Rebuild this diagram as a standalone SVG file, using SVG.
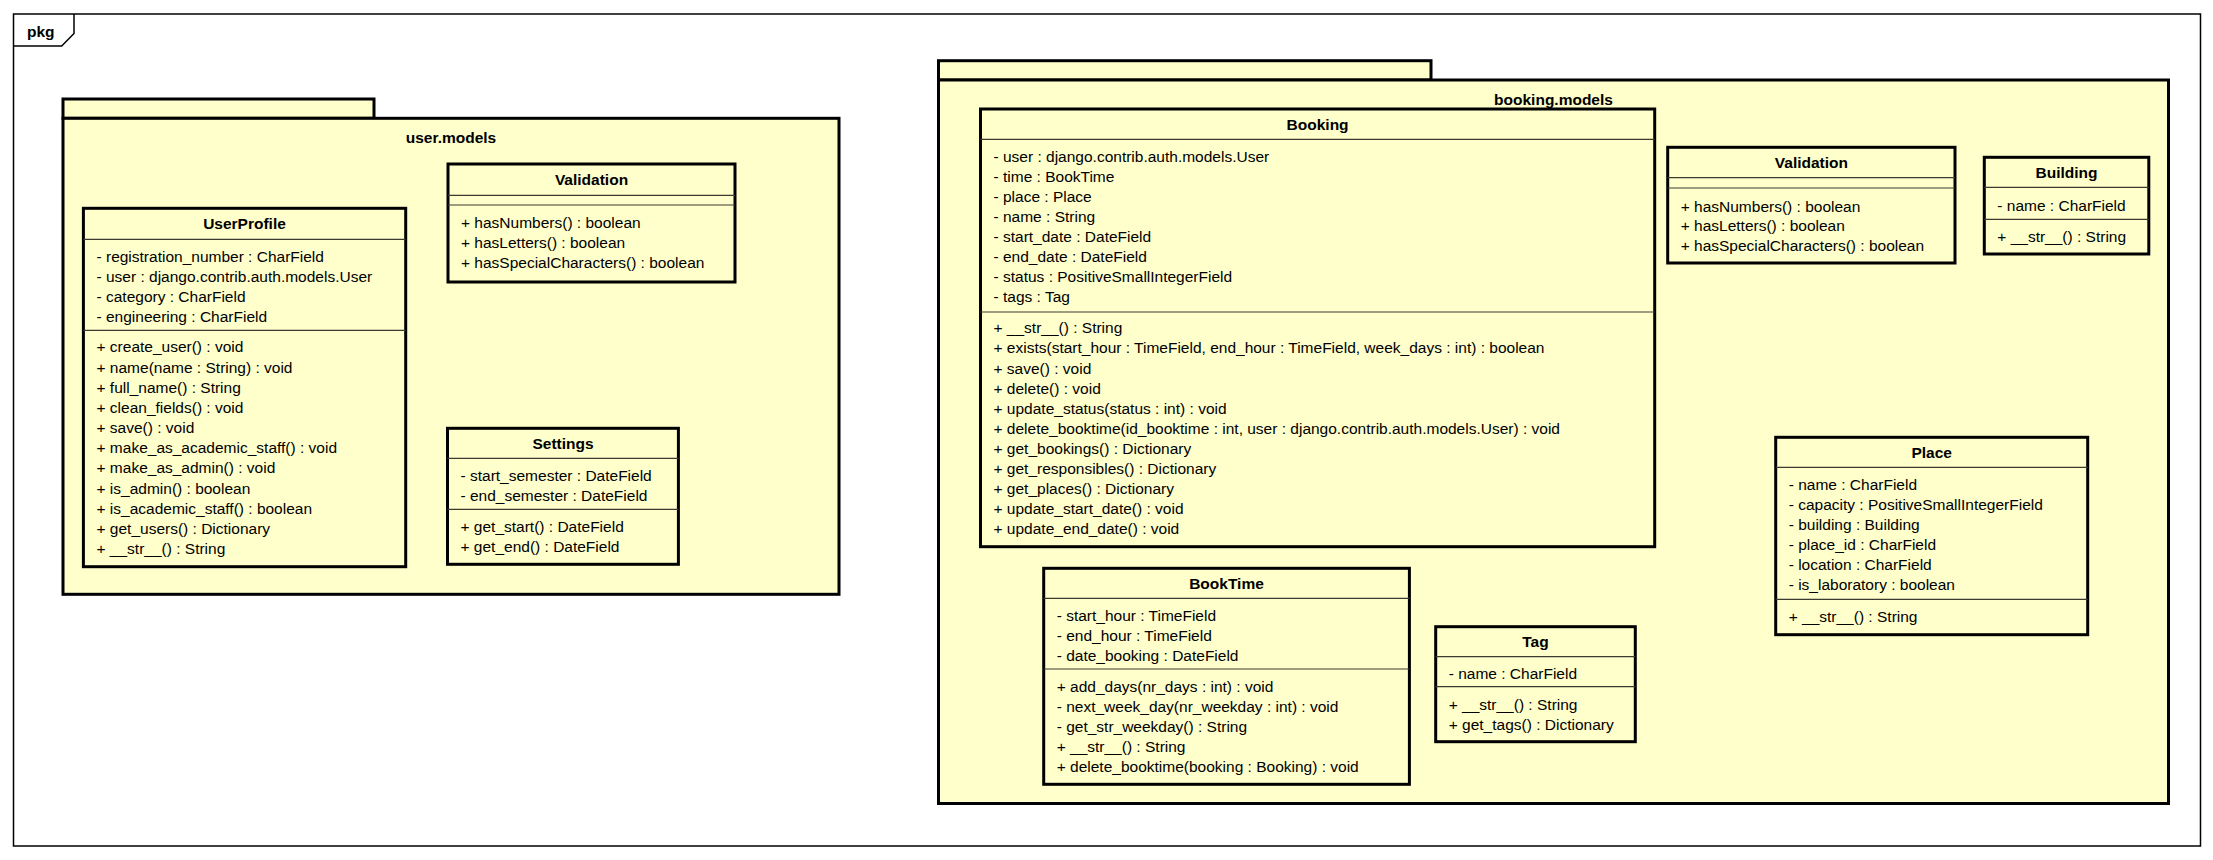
<svg xmlns="http://www.w3.org/2000/svg" width="2213" height="860" viewBox="0 0 2213 860">
<style>
.frame{fill:none;stroke:#000;stroke-width:1.5}
.pk{fill:#FFFFCC;stroke:#000;stroke-width:3}
.cls{fill:#FFFFCC;stroke:#000;stroke-width:3}
.sep{stroke:#3a3a30;stroke-width:1.2}
text{font-family:"Liberation Sans",Arial,sans-serif;font-size:15.5px;fill:#000}
.h{font-weight:bold;text-anchor:middle}
.b{font-weight:bold}
</style>
<rect width="2213" height="860" fill="#fff"/>
<g id="frame">
<rect class="frame" x="13.5" y="14" width="2187" height="832"/>
<polyline class="frame" points="13.5,46 61.7,46 74,33.5 74,14"/>
<text class="b" x="27" y="37">pkg</text>
</g>
<g id="pkg-user-models">
<rect class="pk" x="63" y="99" width="311" height="19.3"/>
<rect class="pk" x="63" y="118.3" width="776" height="476"/>
<text class="h" x="451" y="143">user.models</text>
</g>
<g id="pkg-booking-models">
<rect class="pk" x="938.5" y="60.7" width="492.5" height="19.3"/>
<rect class="pk" x="938.5" y="80" width="1230" height="723.5"/>
<text class="h" x="1553.5" y="104.5">booking.models</text>
</g>
<g id="UserProfile">
<rect class="cls" x="83.4" y="208.3" width="322.3" height="358.4"/>
<line class="sep" x1="83.4" y1="239.3" x2="405.7" y2="239.3"/>
<line class="sep" x1="83.4" y1="330.3" x2="405.7" y2="330.3"/>
<text class="h" x="244.5" y="229.3">UserProfile</text>
<text x="96.5" y="261.7">- registration_number : CharField</text>
<text x="96.5" y="281.7">- user : django.contrib.auth.models.User</text>
<text x="96.5" y="301.7">- category : CharField</text>
<text x="96.5" y="321.7">- engineering : CharField</text>
<text x="96.5" y="352.3">+ create_user() : void</text>
<text x="96.5" y="372.5">+ name(name : String) : void</text>
<text x="96.5" y="392.6">+ full_name() : String</text>
<text x="96.5" y="412.8">+ clean_fields() : void</text>
<text x="96.5" y="433">+ save() : void</text>
<text x="96.5" y="453.1">+ make_as_academic_staff() : void</text>
<text x="96.5" y="473.3">+ make_as_admin() : void</text>
<text x="96.5" y="493.5">+ is_admin() : boolean</text>
<text x="96.5" y="513.7">+ is_academic_staff() : boolean</text>
<text x="96.5" y="533.8">+ get_users() : Dictionary</text>
<text x="96.5" y="554">+ __str__() : String</text>
</g>
<g id="Validation-user">
<rect class="cls" x="448" y="164" width="287" height="118"/>
<line class="sep" x1="448" y1="195.3" x2="735" y2="195.3"/>
<line class="sep" x1="448" y1="205" x2="735" y2="205"/>
<text class="h" x="591.5" y="185">Validation</text>
<text x="461" y="228.3">+ hasNumbers() : boolean</text>
<text x="461" y="248.3">+ hasLetters() : boolean</text>
<text x="461" y="268.3">+ hasSpecialCharacters() : boolean</text>
</g>
<g id="Settings">
<rect class="cls" x="447.5" y="428.3" width="230.9" height="136"/>
<line class="sep" x1="447.5" y1="458.3" x2="678.4" y2="458.3"/>
<line class="sep" x1="447.5" y1="509.3" x2="678.4" y2="509.3"/>
<text class="h" x="563" y="448.8">Settings</text>
<text x="460.5" y="480.7">- start_semester : DateField</text>
<text x="460.5" y="500.7">- end_semester : DateField</text>
<text x="460.5" y="531.7">+ get_start() : DateField</text>
<text x="460.5" y="551.7">+ get_end() : DateField</text>
</g>
<g id="Booking">
<rect class="cls" x="980.5" y="109" width="674.2" height="437.7"/>
<line class="sep" x1="980.5" y1="139.3" x2="1654.7" y2="139.3"/>
<line class="sep" x1="980.5" y1="312" x2="1654.7" y2="312"/>
<text class="h" x="1317.6" y="129.7">Booking</text>
<text x="993.5" y="162.3">- user : django.contrib.auth.models.User</text>
<text x="993.5" y="182.3">- time : BookTime</text>
<text x="993.5" y="202.3">- place : Place</text>
<text x="993.5" y="222.3">- name : String</text>
<text x="993.5" y="242.3">- start_date : DateField</text>
<text x="993.5" y="262.3">- end_date : DateField</text>
<text x="993.5" y="282.3">- status : PositiveSmallIntegerField</text>
<text x="993.5" y="302.3">- tags : Tag</text>
<text x="993.5" y="333.3">+ __str__() : String</text>
<text x="993.5" y="353.4">+ exists(start_hour : TimeField, end_hour : TimeField, week_days : int) : boolean</text>
<text x="993.5" y="373.5">+ save() : void</text>
<text x="993.5" y="393.6">+ delete() : void</text>
<text x="993.5" y="413.7">+ update_status(status : int) : void</text>
<text x="993.5" y="433.8">+ delete_booktime(id_booktime : int, user : django.contrib.auth.models.User) : void</text>
<text x="993.5" y="453.9">+ get_bookings() : Dictionary</text>
<text x="993.5" y="474">+ get_responsibles() : Dictionary</text>
<text x="993.5" y="494.1">+ get_places() : Dictionary</text>
<text x="993.5" y="514.2">+ update_start_date() : void</text>
<text x="993.5" y="534.3">+ update_end_date() : void</text>
</g>
<g id="Validation-booking">
<rect class="cls" x="1667.7" y="147.3" width="287.3" height="115.7"/>
<line class="sep" x1="1667.7" y1="177.7" x2="1955" y2="177.7"/>
<line class="sep" x1="1667.7" y1="188" x2="1955" y2="188"/>
<text class="h" x="1811.4" y="168">Validation</text>
<text x="1680.7" y="211.5">+ hasNumbers() : boolean</text>
<text x="1680.7" y="231">+ hasLetters() : boolean</text>
<text x="1680.7" y="250.5">+ hasSpecialCharacters() : boolean</text>
</g>
<g id="Building">
<rect class="cls" x="1984.3" y="157.3" width="164.5" height="96.7"/>
<line class="sep" x1="1984.3" y1="187.3" x2="2148.8" y2="187.3"/>
<line class="sep" x1="1984.3" y1="219.3" x2="2148.8" y2="219.3"/>
<text class="h" x="2066.5" y="177.8">Building</text>
<text x="1997.3" y="210.7">- name : CharField</text>
<text x="1997.3" y="241.7">+ __str__() : String</text>
</g>
<g id="Place">
<rect class="cls" x="1775.7" y="437.3" width="312" height="197.4"/>
<line class="sep" x1="1775.7" y1="467.3" x2="2087.7" y2="467.3"/>
<line class="sep" x1="1775.7" y1="599.3" x2="2087.7" y2="599.3"/>
<text class="h" x="1931.7" y="457.8">Place</text>
<text x="1788.7" y="490">- name : CharField</text>
<text x="1788.7" y="510">- capacity : PositiveSmallIntegerField</text>
<text x="1788.7" y="530">- building : Building</text>
<text x="1788.7" y="550">- place_id : CharField</text>
<text x="1788.7" y="570">- location : CharField</text>
<text x="1788.7" y="590">- is_laboratory : boolean</text>
<text x="1788.7" y="621.7">+ __str__() : String</text>
</g>
<g id="BookTime">
<rect class="cls" x="1043.7" y="568.3" width="365.7" height="216"/>
<line class="sep" x1="1043.7" y1="598.3" x2="1409.4" y2="598.3"/>
<line class="sep" x1="1043.7" y1="669" x2="1409.4" y2="669"/>
<text class="h" x="1226.5" y="588.8">BookTime</text>
<text x="1056.7" y="620.7">- start_hour : TimeField</text>
<text x="1056.7" y="640.7">- end_hour : TimeField</text>
<text x="1056.7" y="660.7">- date_booking : DateField</text>
<text x="1056.7" y="691.7">+ add_days(nr_days : int) : void</text>
<text x="1056.7" y="711.7">- next_week_day(nr_weekday : int) : void</text>
<text x="1056.7" y="731.7">- get_str_weekday() : String</text>
<text x="1056.7" y="751.7">+ __str__() : String</text>
<text x="1056.7" y="771.7">+ delete_booktime(booking : Booking) : void</text>
</g>
<g id="Tag">
<rect class="cls" x="1435.7" y="626.7" width="199.6" height="115"/>
<line class="sep" x1="1435.7" y1="656.7" x2="1635.3" y2="656.7"/>
<line class="sep" x1="1435.7" y1="686.7" x2="1635.3" y2="686.7"/>
<text class="h" x="1535.5" y="647.2">Tag</text>
<text x="1448.7" y="679.3">- name : CharField</text>
<text x="1448.7" y="710">+ __str__() : String</text>
<text x="1448.7" y="730">+ get_tags() : Dictionary</text>
</g>
<g id="connectors"/>
</svg>
